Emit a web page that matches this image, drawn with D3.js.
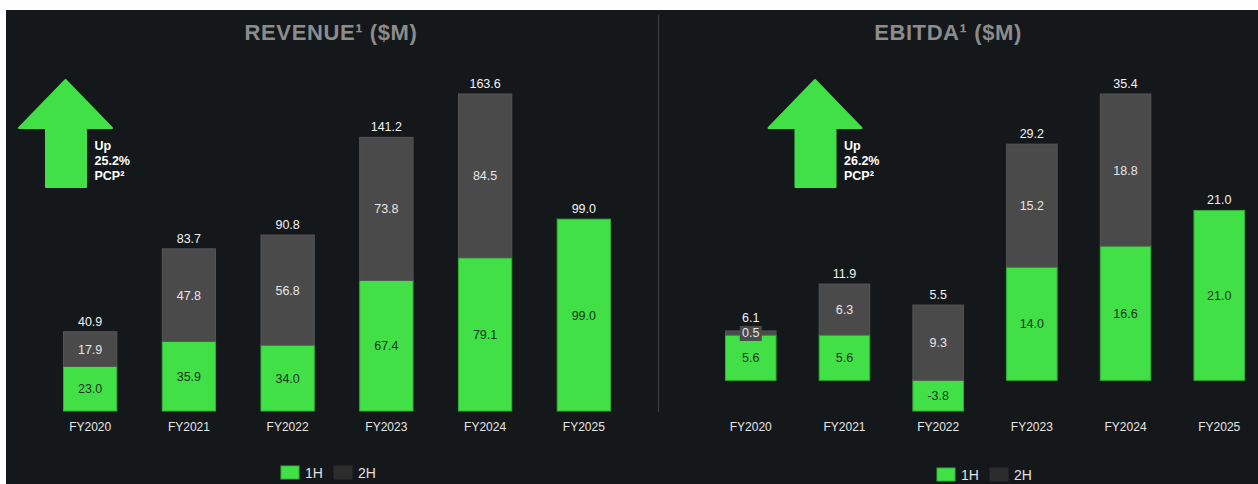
<!DOCTYPE html>
<html>
<head>
<meta charset="utf-8">
<script src="https://cdn.jsdelivr.net/npm/d3@7"></script>
<style>
  html, body { margin: 0; padding: 0; background: #ffffff; }
  svg { display: block; font-family: "Liberation Sans", Arial, sans-serif; }
</style>
</head>
<body>
<div id="chart"></div>
<script>
// data
const years = ["FY2020", "FY2021", "FY2022", "FY2023", "FY2024", "FY2025"];
const revenue1H = [23.0, 35.9, 34.0, 67.4, 79.1, 99.0];
const revenue2H = [17.9, 47.8, 56.8, 73.8, 84.5, null];
const revenueTotal = [40.9, 83.7, 90.8, 141.2, 163.6, 99.0];
const ebitda1H = [5.6, 5.6, -3.8, 14.0, 16.6, 21.0];
const ebitda2H = [0.5, 6.3, 9.3, 15.2, 18.8, null];
const ebitdaTotal = [6.1, 11.9, 5.5, 29.2, 35.4, 21.0];
const halves = ["1H", "2H"];
const growth = { revenue: ["Up", "25.2%", "PCP²"], ebitda: ["Up", "26.2%", "PCP²"] };

const W = 1258, H = 484;
const GREEN = "#41e047", GREEN_EDGE = "#30b236", GREY = "#4a4a4a", LEGEND_GREY = "#2c2c2c";
const BG = "#14181b";

const svg = d3.select("#chart").append("svg")
  .attr("width", W).attr("height", H);

svg.append("rect").attr("x", 6).attr("y", 10).attr("width", W - 6).attr("height", H - 10)
  .attr("fill", BG);

// divider between the two panels
svg.append("line").attr("x1", 658.5).attr("x2", 658.5).attr("y1", 15).attr("y2", 412)
  .attr("stroke", "#3a3f43").attr("stroke-width", 1);

function panel(opts) {
  const rows = years.map((y, i) => ({ year: y, "1H": opts.h1[i], "2H": opts.h2[i] == null ? 0 : opts.h2[i], total: opts.total[i], has2H: opts.h2[i] != null }));

  const x = d3.scaleBand().domain(years).range(opts.xRange).paddingInner(0.45).paddingOuter(0);
  const y = d3.scaleLinear().domain(opts.yDomain).range([411, 94]);

  const stacked = d3.stack().keys(halves).offset(d3.stackOffsetDiverging)(rows);

  const g = svg.append("g");

  // title
  g.append("text")
    .attr("x", opts.titleX).attr("y", 40)
    .attr("text-anchor", "middle")
    .attr("font-size", 22).attr("font-weight", "bold")
    .attr("letter-spacing", 0.6)
    .attr("fill", "#8c8c8c")
    .text(opts.title);

  // bars
  stacked.forEach(layer => {
    const isGreen = layer.key === "1H";
    g.append("g").selectAll("rect")
      .data(layer.filter(d => isGreen || d.data.has2H))
      .join("rect")
      .attr("x", d => x(d.data.year) + 0.5)
      .attr("width", x.bandwidth() - 1)
      .attr("y", d => y(Math.max(d[0], d[1])))
      .attr("height", d => Math.abs(y(d[0]) - y(d[1])))
      .attr("fill", isGreen ? GREEN : GREY)
      .attr("stroke", isGreen ? GREEN_EDGE : "#555")
      .attr("stroke-width", 1);
  });

  // segment labels (small segments get a boxed label)
  const boxed = new Set();
  stacked.forEach(layer => {
    const isGreen = layer.key === "1H";
    layer.filter(d => isGreen || d.data.has2H).forEach(d => {
      const cx = x(d.data.year) + x.bandwidth() / 2;
      const cy = (y(d[0]) + y(d[1])) / 2;
      const val = d.data[layer.key];
      if (Math.abs(y(d[0]) - y(d[1])) < 16) {
        boxed.add(d.data.year);
        g.append("rect")
          .attr("x", cx - 11).attr("y", cy - 7).attr("width", 22).attr("height", 15)
          .attr("fill", GREY);
      }
      g.append("text")
        .attr("x", cx).attr("y", cy + 4.5)
        .attr("text-anchor", "middle")
        .attr("font-size", 12.5)
        .attr("fill", isGreen ? "#16361a" : "#e6e6e6")
        .text(val.toFixed(1));
    });
  });

  // totals above the stack
  g.append("g").selectAll("text")
    .data(rows)
    .join("text")
    .attr("x", d => x(d.year) + x.bandwidth() / 2)
    .attr("y", d => y(Math.max(0, d["1H"]) + d["2H"]) - (boxed.has(d.year) ? 9 : 6))
    .attr("text-anchor", "middle")
    .attr("font-size", 12.5)
    .attr("fill", "#f2f2f2")
    .text(d => d.total.toFixed(1));

  // category axis
  const axis = g.append("g")
    .attr("transform", "translate(0,431)")
    .call(d3.axisBottom(x).tickSize(0).tickPadding(0));
  axis.select(".domain").remove();
  axis.selectAll("text")
    .attr("font-size", 12)
    .attr("font-family", "Liberation Sans, Arial, sans-serif")
    .attr("fill", "#e6e6e6")
    .attr("dy", 0);

  // growth arrow
  const ax = opts.arrowX;
  const arrow = d3.path();
  arrow.moveTo(ax, 80);
  arrow.lineTo(ax + 46.5, 128);
  arrow.lineTo(ax + 20.5, 128);
  arrow.lineTo(ax + 20.5, 187);
  arrow.lineTo(ax - 19.5, 187);
  arrow.lineTo(ax - 19.5, 128);
  arrow.lineTo(ax - 46.5, 128);
  arrow.closePath();
  g.append("path").attr("d", arrow.toString())
    .attr("fill", GREEN).attr("stroke", GREEN).attr("stroke-width", 2)
    .attr("stroke-linejoin", "round");

  g.append("g").selectAll("text")
    .data(opts.growth)
    .join("text")
    .attr("x", ax + 29)
    .attr("y", (d, i) => 150 + i * 15)
    .attr("font-size", 12.5)
    .attr("font-weight", "bold")
    .attr("fill", "#ffffff")
    .text(d => d);

  // legend
  const lg = g.append("g").attr("transform", `translate(${opts.legendX},${opts.legendY})`);
  const items = [{ key: "1H", fill: GREEN, stroke: GREEN_EDGE }, { key: "2H", fill: LEGEND_GREY, stroke: LEGEND_GREY }];
  items.forEach((it, i) => {
    const ig = lg.append("g").attr("transform", `translate(${i * 53},0)`);
    ig.append("rect").attr("x", 0).attr("y", 0).attr("width", 18).attr("height", 13)
      .attr("fill", it.fill).attr("stroke", it.stroke);
    ig.append("text").attr("x", 24).attr("y", 12)
      .attr("font-size", 14).attr("fill", "#e0e0e0").text(it.key);
  });
}

panel({
  title: "REVENUE¹ ($M)", titleX: 331,
  h1: revenue1H, h2: revenue2H, total: revenueTotal,
  xRange: [63, 611], yDomain: [0, 163.6],
  arrowX: 65.5, growth: growth.revenue,
  legendX: 281, legendY: 466
});

panel({
  title: "EBITDA¹ ($M)", titleX: 948,
  h1: ebitda1H, h2: ebitda2H, total: ebitdaTotal,
  xRange: [725, 1245], yDomain: [-3.8, 35.4],
  arrowX: 815, growth: growth.ebitda,
  legendX: 937, legendY: 468
});
</script>
</body>
</html>
